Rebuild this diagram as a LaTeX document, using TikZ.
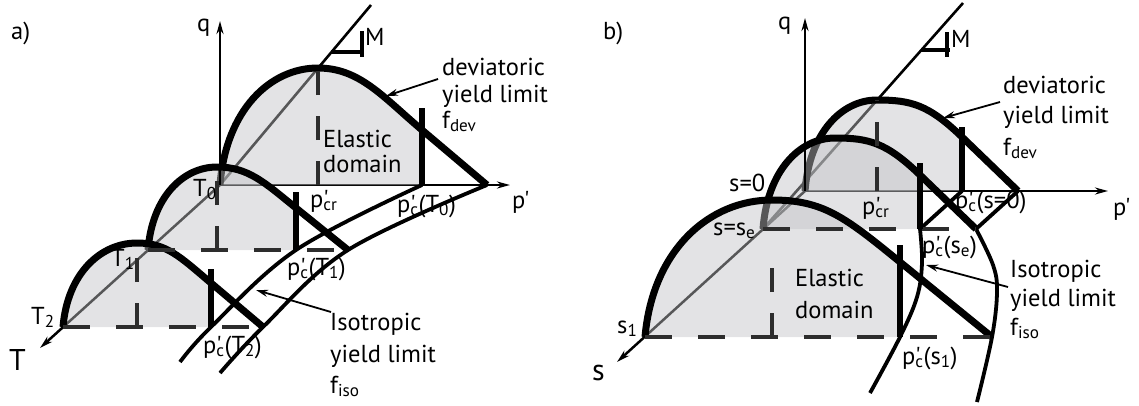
\documentclass[tikz,border=0pt]{standalone}
\usepackage{fontspec}
\newfontfamily\lab{PT Sans}
\usetikzlibrary{arrows.meta,calc}
\definecolor{domc}{RGB}{193,194,197}
\definecolor{dkg}{RGB}{45,45,45}
\newcommand{\ppr}{p\rlap{'}}
% #1 name, #2 x0, #3 y0, #4 peak dx, #5 peak height, #6 bar dx, #7 meet height, #8 bar height, #9 end dx
\newcommand{\ysurf}[9]{%
  \coordinate (#1o) at (#2,#3);
  \coordinate (#1p) at ({#2+#4},{#3-#5});
  \coordinate (#1m) at ({#2+#6},{#3-#7});
  \coordinate (#1b) at ({#2+#6},#3);
  \coordinate (#1t) at ({#2+#6},{#3-#8});
  \coordinate (#1e) at ({#2+#9},#3);
  \coordinate (#1d) at ({#2+#4},#3);
  \coordinate (#1c1) at ({#2+0.06*#4},{#3-0.64*#5});
  \coordinate (#1c2) at ({#2+0.51*#4},{#3-#5});
  \coordinate (#1c3) at ({#2+#4+0.4*(#6-#4)},{#3-#5});
  \coordinate (#1c4) at ($(#1m)!-0.6!(#1e)$);
  \fill[domfill] (#1o) .. controls (#1c1) and (#1c2) .. (#1p) .. controls (#1c3) and (#1c4) .. (#1m) -- (#1b) -- cycle;
  \draw[yl] (#1o) .. controls (#1c1) and (#1c2) .. (#1p) .. controls (#1c3) and (#1c4) .. (#1m) -- (#1e);
}
\tikzset{
  lab/.style={font=\lab\fontsize{24.5}{28}\selectfont, inner sep=0pt, anchor=base west},
  big/.style={font=\lab\fontsize{30}{32}\selectfont, inner sep=0pt, anchor=base west},
  domfill/.style={fill=domc, fill opacity=0.45},
  yl/.style={line width=7pt, draw=black},
  barl/.style={line width=6.5pt, draw=black},
  dshv/.style={line width=3.8pt, draw=dkg, dash pattern=on 24pt off 21pt},
  dshh/.style={line width=3.8pt, draw=dkg, dash pattern=on 27pt off 26pt},
  ax/.style={line width=2.8pt, -{Stealth[length=13pt,width=7pt]}},
  thinl/.style={line width=2.6pt},
  iso/.style={line width=3.8pt},
  ptr/.style={line width=1.8pt, -{Stealth[length=12pt,width=7pt]}},
  slopemk/.style={line width=3.4pt},
}
\begin{document}
\begin{tikzpicture}[x=1pt,y=-1pt]
\useasboundingbox (0,0) rectangle (1139,405);

% ================= panel a =================
\coordinate (Oa) at (220,185);
\coordinate (Ta) at (40,348);
\coordinate (Mta) at (371,5);
\coordinate (pa) at (510,185);
\coordinate (qa) at (220,21);
\draw[ax, line width=2.5pt] (Oa) -- (Ta);
\draw[thinl] (Oa) -- (Mta);
\draw[ax] (Oa) -- (pa);

\ysurf{T0}{220}{185}{98}{117}{202}{55}{77}{267}
\ysurf{T1}{148}{250}{69}{83}{148}{42}{58}{200}
\ysurf{T2}{63}{327}{74}{84}{148}{44}{58}{200}

\coordinate (Aa0) at (180,362);
\coordinate (Ba0) at (220,373);
\draw[iso] plot[smooth, tension=0.6] coordinates {(Aa0) (T2b) (T1b) (T0b)};
\draw[iso] plot[smooth, tension=0.6] coordinates {(Ba0) (T2e) (T1e) (T0e)};

\draw[dshv] (T0d) -- (T0p);
\draw[dshv] (T1d) -- (T1p);
\draw[dshv] (T2d) -- (T2p);
\draw[dshh] (T1o) -- (T1e);
\draw[dshh] (T2o) -- (T2e);
\draw[barl] (T0b) -- (T0t);
\draw[barl] (T1b) -- (T1t);
\draw[barl] (T2b) -- (T2t);
\draw[ax] (Oa) -- (qa);

\coordinate (mka1) at (331,52);
\coordinate (mka2) at (364,52);
\coordinate (mka3) at (362,31);
\coordinate (mka4) at (362,57);
\draw[slopemk] (mka1) -- (mka2);
\draw[slopemk] (mka3) -- (mka4);

\node[lab] (la) at (11,39) {a)};
\node[lab] (lqa) at (197,31) {q};
\node[lab] (lMa) at (365,45) {M};
\node[lab] (deva1) at (442,75) {deviatoric};
\node[lab] (deva2) at (442,102) {yield limit};
\node[lab] (deva3) at (442,128) {f\textsubscript{dev}};
\node[lab] (ela1) at (323,147) {Elastic};
\node[lab] (ela2) at (323,172) {domain};
\node[lab] (pcra) at (310,207) {\ppr\textsubscript{cr}};
\node[lab] (pcT0) at (397,212) {\ppr\textsubscript{c}(T\textsubscript{0})};
\node[lab] (ppa) at (512,208) {p'};
\node[lab] (lT0) at (193,196) {T\textsubscript{0}};
\node[lab] (lT1) at (111,266) {T\textsubscript{1}};
\node[lab] (lT2) at (31,324) {T\textsubscript{2}};
\node[big] (lT) at (9,370) {T};
\node[lab] (pcT1) at (287,275) {\ppr\textsubscript{c}(T\textsubscript{1})};
\node[lab] (pcT2) at (203,353) {\ppr\textsubscript{c}(T\textsubscript{2})};
\node[lab] (isa1) at (330,330) {Isotropic};
\node[lab] (isa2) at (330,362) {yield limit};
\node[lab] (isa3) at (330,393) {f\textsubscript{iso}};

\coordinate (dva) at (438,79);
\coordinate (dvat) at (386,96);
\draw[ptr] (dva) -- (dvat);
\coordinate (isaa) at (331,312);
\coordinate (isat) at (256,290);
\draw[ptr] (isaa) -- (isat);

% ================= panel b =================
\coordinate (Ob) at (805,191);
\coordinate (Sb) at (617,362);
\coordinate (Mbo) at (763,229);
\coordinate (Mtb) at (963,3);
\coordinate (pb) at (1108,191);
\coordinate (qb) at (805,18);
\draw[ax, line width=2.5pt] (Ob) -- (Sb);
\draw[thinl] (Mbo) -- (Mtb);
\draw[ax] (Ob) -- (pb);

\ysurf{S0}{805}{191}{72}{91}{157}{54}{64}{213}
\ysurf{Se}{763}{229}{72}{91}{157}{54}{66}{213}
\ysurf{S1}{645}{337}{127}{137}{255}{75}{92}{347}

\coordinate (Ab1) at (922,263);
\coordinate (Ab2) at (917,297);
\coordinate (Ab3) at (870,393);
\coordinate (Bb1) at (993,265);
\coordinate (Bb2) at (997,292);
\coordinate (Bb3) at (977,402);
\draw[iso] (S0b) -- (Seb);
\draw[iso] plot[smooth, tension=0.6] coordinates {(Seb) (Ab1) (Ab2) (S1b) (Ab3)};
\draw[iso] (S0e) -- (See);
\draw[iso] plot[smooth, tension=0.6] coordinates {(See) (Bb1) (Bb2) (S1e) (Bb3)};

\draw[dshv] (S0d) -- (S0p);
\coordinate (S1v) at (772,255);
\draw[dshv] (S1d) -- (S1v);
\draw[dshh] (Seo) -- (See);
\draw[dshh] (S1o) -- (S1e);
\draw[barl] (S0b) -- (S0t);
\draw[barl] (Seb) -- (Set);
\draw[barl] (S1b) -- (S1t);
\draw[ax] (Ob) -- (qb);

\coordinate (mkb1) at (921,50);
\coordinate (mkb2) at (950,50);
\coordinate (mkb3) at (947,32);
\coordinate (mkb4) at (947,57);
\draw[slopemk] (mkb1) -- (mkb2);
\draw[slopemk] (mkb3) -- (mkb4);

\node[lab] (lb) at (603,39) {b)};
\node[lab] (lqb) at (778,29) {q};
\node[lab] (lMb) at (951,47) {M};
\node[lab] (devb1) at (1003,93) {deviatoric};
\node[lab] (devb2) at (1003,123) {yield limit};
\node[lab] (devb3) at (1003,155) {f\textsubscript{dev}};
\node[lab] (elb1) at (795,286) {Elastic};
\node[lab] (elb2) at (795,318) {domain};
\node[lab] (pcrb) at (862,214) {\ppr\textsubscript{cr}};
\node[lab] (pcS0) at (955,208) {\ppr\textsubscript{c}(s=0)};
\node[lab] (ppb) at (1113,215) {p'};
\node[lab] (pcSe) at (922,253) {\ppr\textsubscript{c}(s\textsubscript{e})};
\node[lab] (pcS1) at (902,364) {\ppr\textsubscript{c}(s\textsubscript{1})};
\node[lab] (isb1) at (1010,277) {Isotropic};
\node[lab] (isb2) at (1010,306) {yield limit};
\node[lab] (isb3) at (1010,335) {f\textsubscript{iso}};
\node[lab] (ls0) at (729,191) {s=0};
\node[lab] (lse) at (713,235) {s=s\textsubscript{e}};
\node[lab] (ls1) at (617,333) {s\textsubscript{1}};
\node[big] (ls) at (592,380) {s};

\coordinate (dvb) at (1000,102);
\coordinate (dvbt) at (943,118);
\draw[ptr] (dvb) -- (dvbt);
\coordinate (isba) at (1008,287);
\coordinate (isbt) at (926,265);
\draw[ptr] (isba) -- (isbt);
\end{tikzpicture}
\end{document}
